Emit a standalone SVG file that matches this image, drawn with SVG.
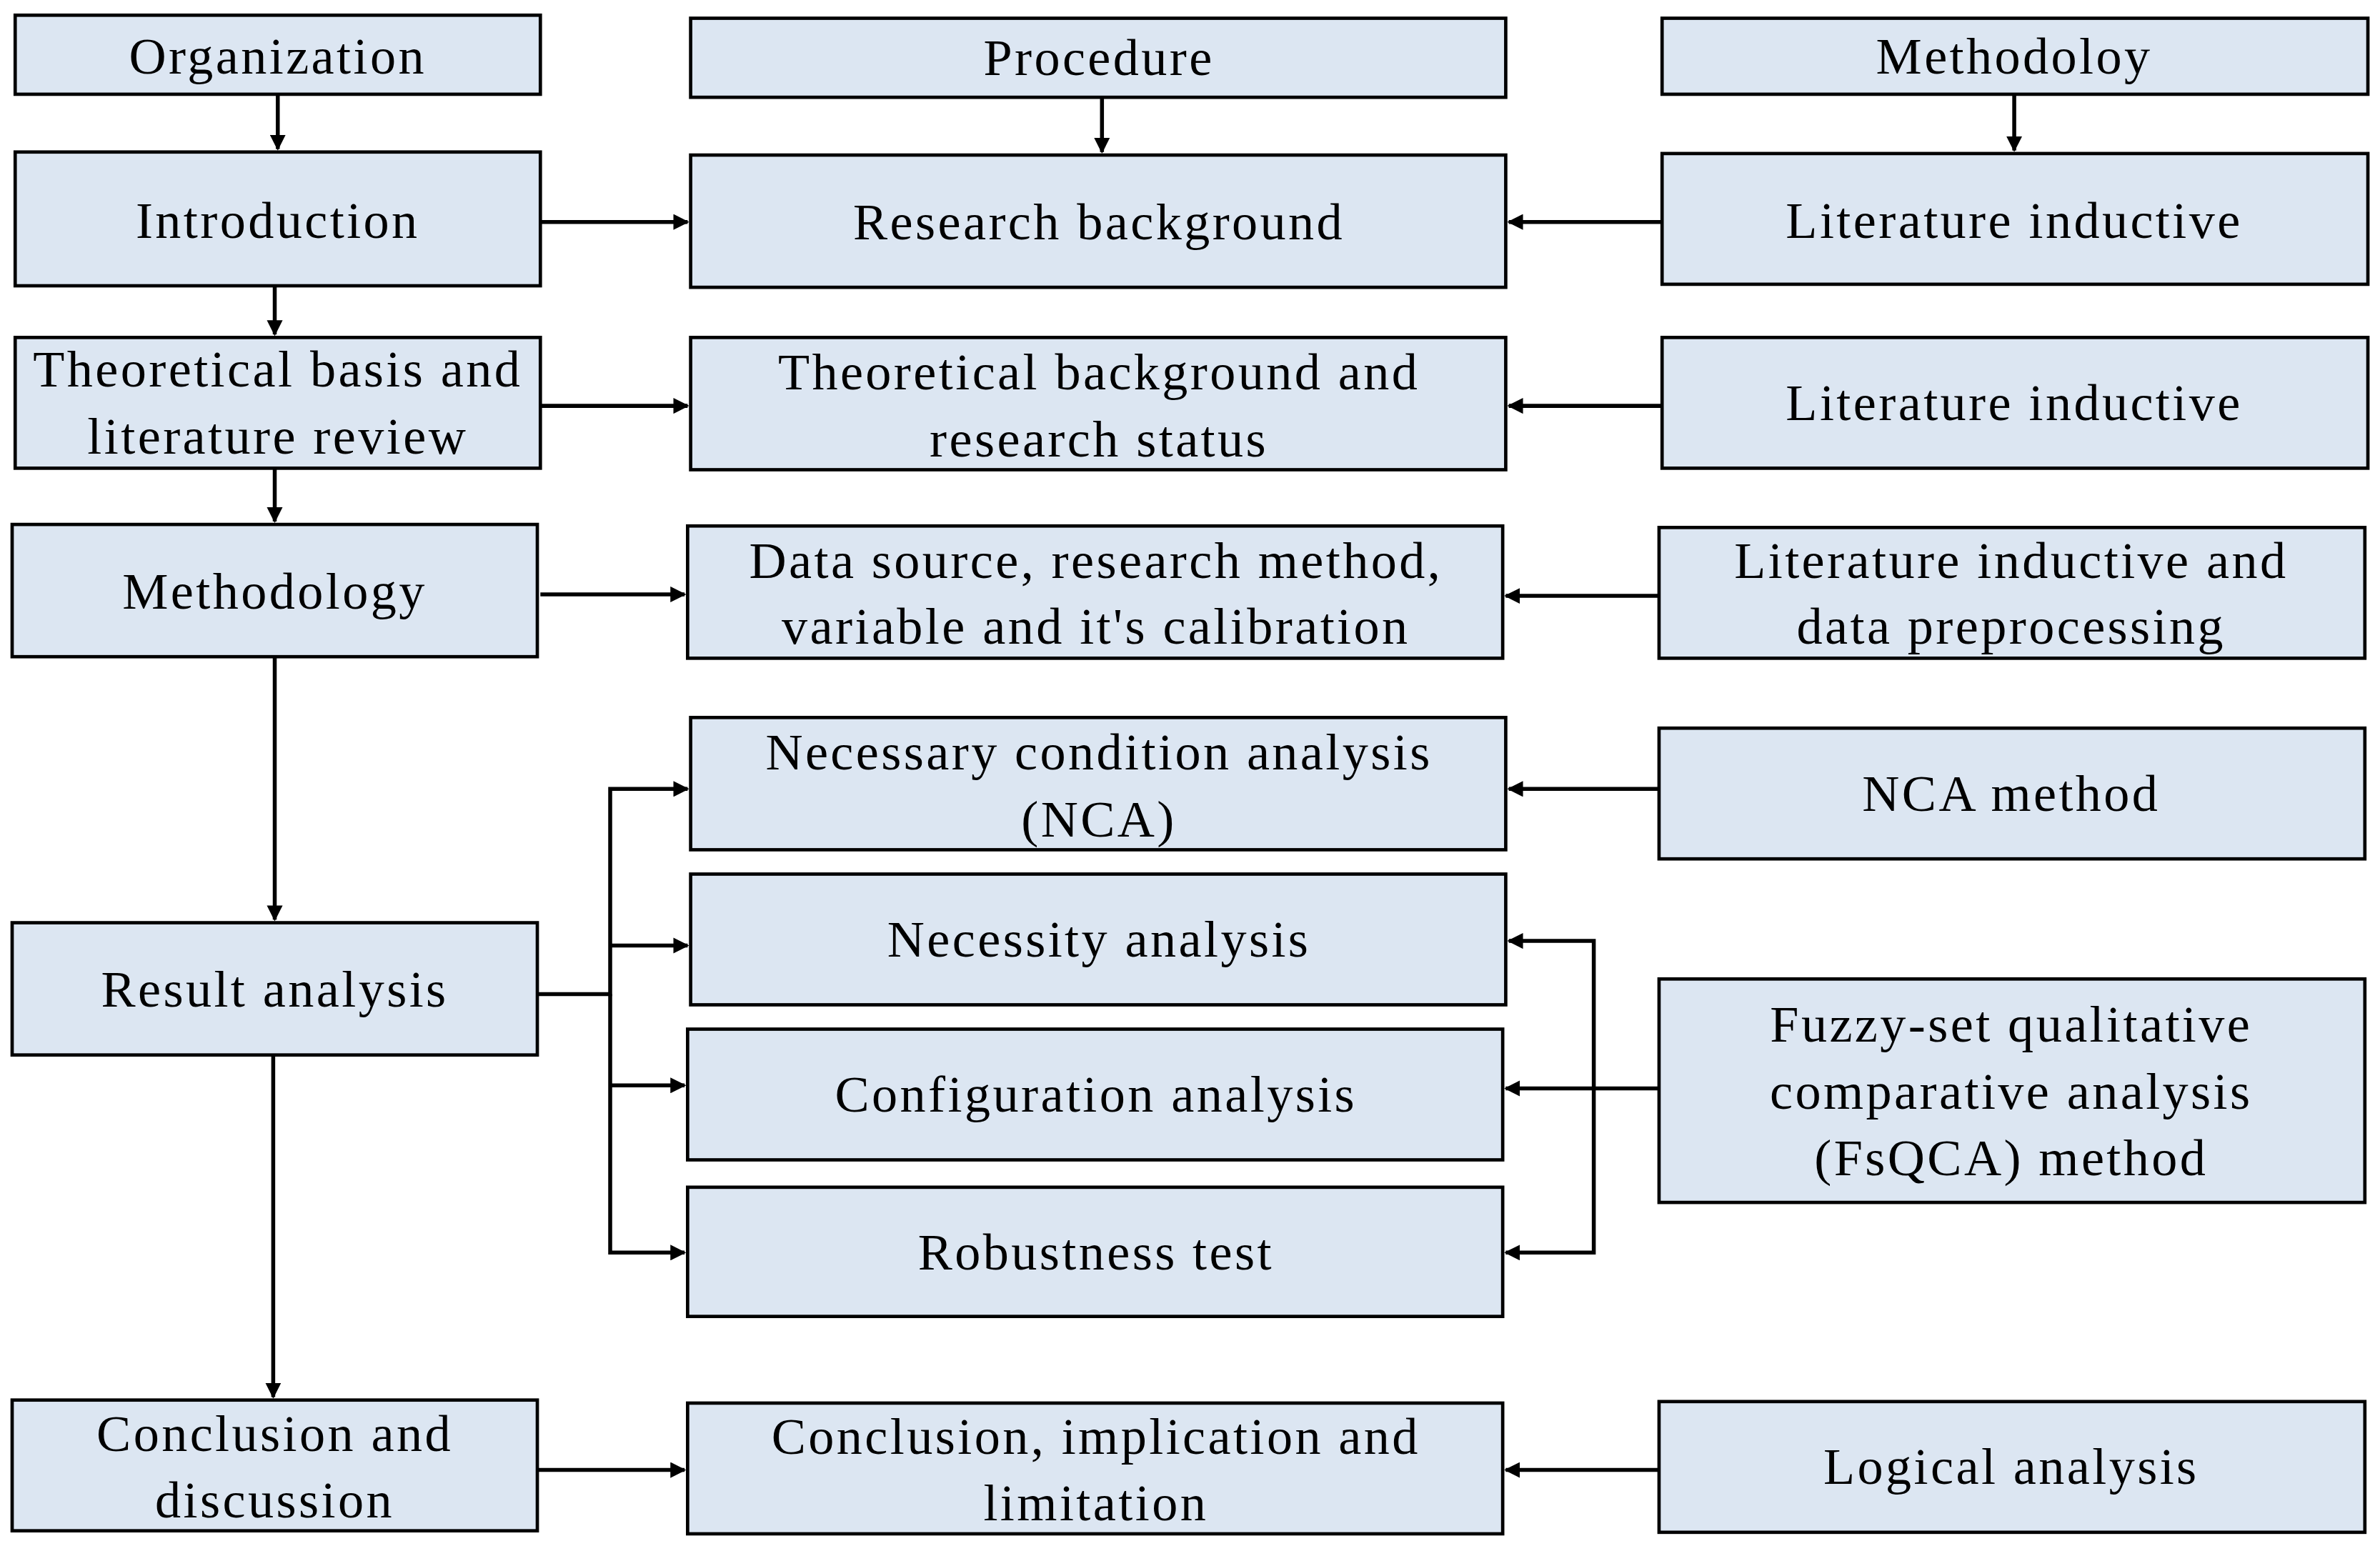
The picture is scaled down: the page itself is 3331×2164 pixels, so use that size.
<svg xmlns="http://www.w3.org/2000/svg" width="3331" height="2164" viewBox="0 0 3331 2164">
<defs>
<style>
.b{fill:#dce6f2;stroke:#000;stroke-width:2.2}
.t{font-family:"Liberation Serif","Times New Roman",serif;font-size:34px;letter-spacing:1.6px;fill:#000;text-anchor:middle;dominant-baseline:central}
.c{fill:none;stroke:#000;stroke-width:2.6}
</style>
<marker id="a" viewBox="0 0 10 10" refX="9" refY="5" markerWidth="4" markerHeight="4" orient="auto" markerUnits="strokeWidth"><path d="M0,0L10,5L0,10z" fill="#000"/></marker>
</defs>
<rect width="3331" height="2164" fill="#fff"/>
<g transform="scale(2.1244,2.1278)">
<g id="connectors" class="c" marker-end="url(#a)">
<path d="M183,62V98"/><path d="M726,64V100"/><path d="M1327,62V99"/>
<path d="M356,146H453"/><path d="M1095,146H994"/>
<path d="M181,188V220"/><path d="M181,308V343"/><path d="M181,432V605"/><path d="M180,694V919"/>
<path d="M356,267H453"/><path d="M1095,267H994"/>
<path d="M356,391H451"/><path d="M1093,392H992"/>
<path d="M354,654H402V519H453" /><path d="M402,622H453"/><path d="M402,714H451"/><path d="M402,654V824H451"/>
<path d="M1093,519H994"/>
<path d="M1093,716H992"/><path d="M1050,716V619H994"/><path d="M1050,716V824H992"/>
<path d="M354,967H451"/><path d="M1093,967H992"/>
</g>
<g id="n1"><rect class="b" x="10" y="10" width="346" height="52"/><text class="t" x="183" y="37">Organization</text></g>
<g id="n2"><rect class="b" x="10" y="100" width="346" height="88"/><text class="t" x="183" y="145">Introduction</text></g>
<g id="n3"><rect class="b" x="10" y="222" width="346" height="86"/><text class="t" x="183" y="243">Theoretical basis and</text><text class="t" x="183" y="287">literature review</text></g>
<g id="n4"><rect class="b" x="8" y="345" width="346" height="87"/><text class="t" x="181" y="389">Methodology</text></g>
<g id="n5"><rect class="b" x="8" y="607" width="346" height="87"/><text class="t" x="181" y="651">Result analysis</text></g>
<g id="n6"><rect class="b" x="8" y="921" width="346" height="86"/><text class="t" x="181" y="943">Conclusion and</text><text class="t" x="181" y="987">discussion</text></g>
<g id="p1"><rect class="b" x="455" y="12" width="537" height="52"/><text class="t" x="724" y="38">Procedure</text></g>
<g id="p2"><rect class="b" x="455" y="102" width="537" height="87"/><text class="t" x="724" y="146">Research background</text></g>
<g id="p3"><rect class="b" x="455" y="222" width="537" height="87"/><text class="t" x="724" y="245">Theoretical background and</text><text class="t" x="724" y="289">research status</text></g>
<g id="p4"><rect class="b" x="453" y="346" width="537" height="87"/><text class="t" x="722" y="369">Data source, research method,</text><text class="t" x="722" y="412">variable and it's calibration</text></g>
<g id="p5"><rect class="b" x="455" y="472" width="537" height="87"/><text class="t" x="724" y="495">Necessary condition analysis</text><text class="t" x="724" y="539">(NCA)</text></g>
<g id="p6"><rect class="b" x="455" y="575" width="537" height="86"/><text class="t" x="724" y="618">Necessity analysis</text></g>
<g id="p7"><rect class="b" x="453" y="677" width="537" height="86"/><text class="t" x="722" y="720">Configuration analysis</text></g>
<g id="p8"><rect class="b" x="453" y="781" width="537" height="85"/><text class="t" x="722" y="824">Robustness test</text></g>
<g id="p9"><rect class="b" x="453" y="923" width="537" height="86"/><text class="t" x="722" y="945">Conclusion, implication and</text><text class="t" x="722" y="989">limitation</text></g>
<g id="m1"><rect class="b" x="1095" y="12" width="465" height="50"/><text class="t" x="1327" y="37">Methodoloy</text></g>
<g id="m2"><rect class="b" x="1095" y="101" width="465" height="86"/><text class="t" x="1327" y="145">Literature inductive</text></g>
<g id="m3"><rect class="b" x="1095" y="222" width="465" height="86"/><text class="t" x="1327" y="265">Literature inductive</text></g>
<g id="m4"><rect class="b" x="1093" y="347" width="465" height="86"/><text class="t" x="1325" y="369">Literature inductive and</text><text class="t" x="1325" y="412">data preprocessing</text></g>
<g id="m5"><rect class="b" x="1093" y="479" width="465" height="86"/><text class="t" x="1325" y="522">NCA method</text></g>
<g id="m6"><rect class="b" x="1093" y="644" width="465" height="147"/><text class="t" x="1325" y="674">Fuzzy-set qualitative</text><text class="t" x="1325" y="718">comparative analysis</text><text class="t" x="1325" y="762">(FsQCA) method</text></g>
<g id="m7"><rect class="b" x="1093" y="922" width="465" height="86"/><text class="t" x="1325" y="965">Logical analysis</text></g>
</g>
</svg>
